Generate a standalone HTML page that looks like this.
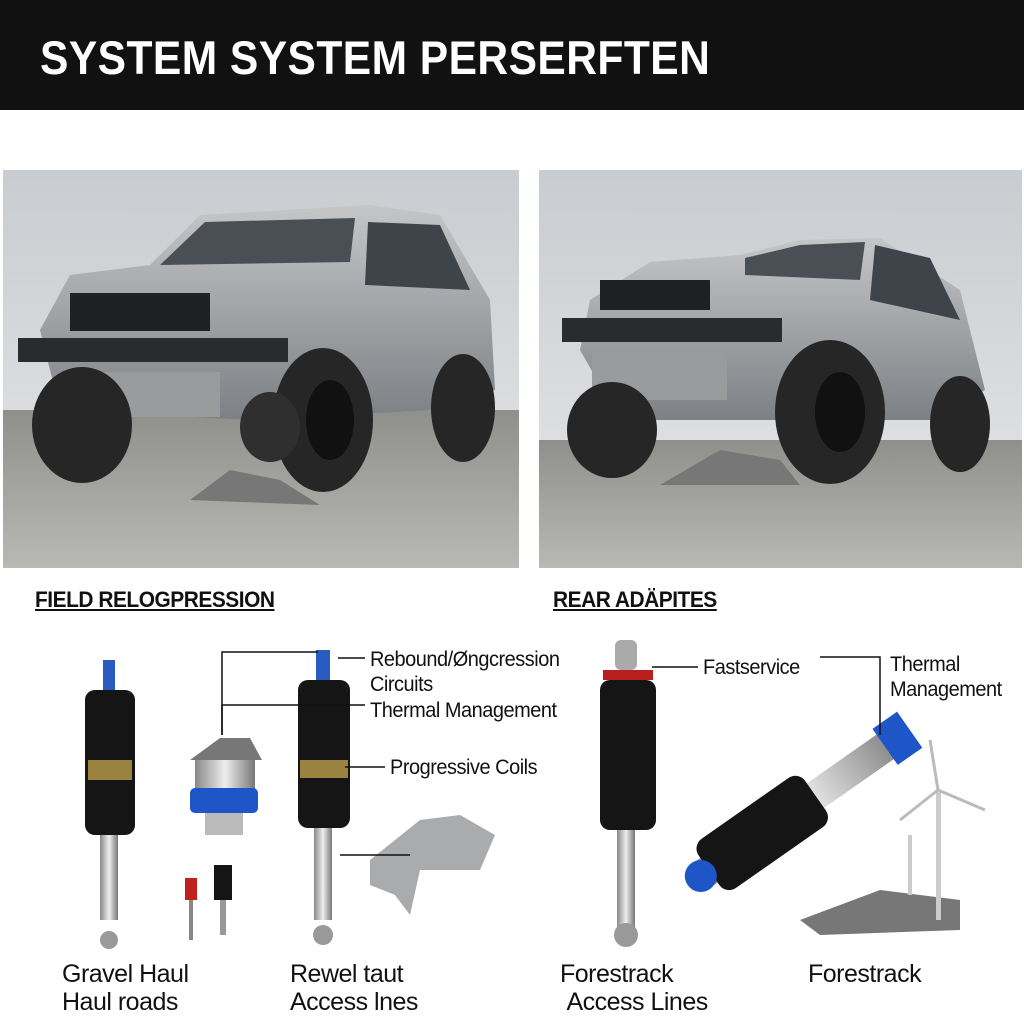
<!DOCTYPE html>
<html><head><meta charset="utf-8"><style>
body{margin:0;width:1024px;height:1024px;background:#fff;overflow:hidden;position:relative;font-family:"Liberation Sans",sans-serif}
.hdr{position:absolute;left:0;top:0;width:1024px;height:110px;background:#111}
.hdr span{position:absolute;left:40px;top:30px;color:#fff;font-weight:bold;font-size:47px;letter-spacing:0.5px;transform:scaleX(0.905);transform-origin:left}
.t{position:absolute;color:#111;white-space:nowrap;transform-origin:left top}
.h2{font-weight:bold;font-size:22px;text-decoration:underline;letter-spacing:-0.5px;transform:scaleX(0.95)}
.lab{font-size:21px;letter-spacing:-0.5px;transform:scaleX(0.95)}
.bot{font-size:25px;line-height:28px;letter-spacing:-0.5px}
</style></head><body>
<div class="hdr"><span>SYSTEM SYSTEM PERSERFTEN</span></div>
<svg width="1024" height="1024" style="position:absolute;left:0;top:0">
<defs>
<linearGradient id="sky" x1="0" y1="0" x2="0" y2="1"><stop offset="0" stop-color="#c9ccd0"/><stop offset="1" stop-color="#e6e7e8"/></linearGradient>
<linearGradient id="gr" x1="0" y1="0" x2="0" y2="1"><stop offset="0" stop-color="#8f8f8c"/><stop offset="1" stop-color="#b8b8b5"/></linearGradient>
<linearGradient id="body" x1="0" y1="0" x2="0" y2="1"><stop offset="0" stop-color="#c4c6c8"/><stop offset="1" stop-color="#7d8084"/></linearGradient>
<linearGradient id="met" x1="0" y1="0" x2="1" y2="0"><stop offset="0" stop-color="#888"/><stop offset=".5" stop-color="#eee"/><stop offset="1" stop-color="#777"/></linearGradient>
</defs>
<rect x="3" y="170" width="516" height="398" fill="url(#sky)"/>
<rect x="3" y="410" width="516" height="158" fill="url(#gr)"/>
<path d="M40 330 L70 275 L150 265 L200 215 L370 205 L440 215 L490 300 L495 390 L430 410 L250 420 L60 410 Z" fill="url(#body)"/>
<path d="M160 265 L205 222 L355 218 L350 262 Z" fill="#4a4f55"/>
<path d="M368 222 L440 225 L470 290 L365 285 Z" fill="#3f444a"/>
<rect x="70" y="293" width="140" height="38" fill="#1f2022"/>
<rect x="18" y="338" width="270" height="24" fill="#2a2b2d"/>
<rect x="60" y="372" width="160" height="45" fill="#9a9b9c"/>
<ellipse cx="82" cy="425" rx="50" ry="58" fill="#262626"/>
<ellipse cx="323" cy="420" rx="50" ry="72" fill="#262626"/><ellipse cx="330" cy="420" rx="24" ry="40" fill="#111"/>
<ellipse cx="463" cy="408" rx="32" ry="54" fill="#262626"/>
<ellipse cx="270" cy="427" rx="30" ry="35" fill="#2f2f2f"/>
<path d="M190 500 L230 470 L280 480 L320 505 Z" fill="#777"/>
<rect x="539" y="170" width="483" height="398" fill="url(#sky)"/>
<rect x="539" y="440" width="483" height="128" fill="url(#gr)"/>
<path d="M590 300 L650 262 L740 255 L800 240 L880 238 L960 290 L985 390 L930 420 L620 420 L580 350 Z" fill="url(#body)"/>
<path d="M745 258 L800 245 L865 242 L860 280 L745 275 Z" fill="#4a4f55"/>
<path d="M875 245 L930 258 L960 320 L870 300 Z" fill="#3f444a"/>
<rect x="600" y="280" width="110" height="30" fill="#1f2022"/>
<rect x="562" y="318" width="220" height="24" fill="#2a2b2d"/>
<rect x="592" y="350" width="135" height="50" fill="#9a9b9c"/>
<ellipse cx="612" cy="430" rx="45" ry="48" fill="#262626"/>
<ellipse cx="830" cy="412" rx="55" ry="72" fill="#262626"/><ellipse cx="840" cy="412" rx="25" ry="40" fill="#111"/>
<ellipse cx="960" cy="424" rx="30" ry="48" fill="#262626"/>
<path d="M660 485 L720 450 L780 460 L800 485 Z" fill="#777"/>
<g>
<rect x="103" y="660" width="12" height="30" fill="#2a5bc0"/>
<rect x="100" y="690" width="18" height="230" fill="url(#met)"/>
<rect x="85" y="690" width="50" height="145" rx="10" fill="#151515"/>
<rect x="88" y="760" width="44" height="20" fill="#9a8240"/>
<circle cx="109" cy="940" r="9" fill="#999"/>
<rect x="316" y="650" width="14" height="30" fill="#2a5bc0"/>
<rect x="314" y="680" width="18" height="240" fill="url(#met)"/>
<rect x="298" y="680" width="52" height="148" rx="10" fill="#151515"/>
<rect x="300" y="760" width="48" height="18" fill="#9a8240"/>
<circle cx="323" cy="935" r="10" fill="#999"/>
<path d="M190 760 L220 738 L250 738 L262 760 Z" fill="#777"/>
<rect x="195" y="760" width="60" height="30" fill="url(#met)"/>
<rect x="190" y="788" width="68" height="25" rx="5" fill="#1e56c8"/>
<rect x="205" y="813" width="38" height="22" fill="#bbb"/>
<rect x="185" y="878" width="12" height="22" fill="#c02020"/><rect x="189" y="900" width="4" height="40" fill="#888"/>
<rect x="214" y="865" width="18" height="35" fill="#151515"/><rect x="220" y="900" width="6" height="35" fill="#999"/>
<path d="M370 860 L420 820 L460 815 L495 835 L480 870 L420 870 L410 915 L395 895 L370 885 Z" fill="#a9abad"/>
<rect x="615" y="640" width="22" height="30" rx="6" fill="#aaa"/>
<rect x="603" y="670" width="50" height="10" fill="#b82020"/>
<rect x="617" y="680" width="18" height="250" fill="url(#met)"/>
<rect x="600" y="680" width="56" height="150" rx="10" fill="#151515"/>
<circle cx="626" cy="935" r="12" fill="#999"/>
<g transform="rotate(-35 795 810)">
<rect x="680" y="795" width="250" height="30" fill="url(#met)"/>
<rect x="690" y="780" width="130" height="60" rx="12" fill="#151515"/>
<rect x="905" y="788" width="30" height="44" fill="#1e56c8"/>
<circle cx="680" cy="810" r="16" fill="#1e56c8"/>
</g>
<path d="M800 920 L880 890 L960 900 L960 930 L820 935 Z" fill="#777"/>
<rect x="936" y="790" width="5" height="130" fill="#ccc"/>
<path d="M938 790 L930 740 M938 790 L985 810 M938 790 L900 820" stroke="#bbb" stroke-width="3"/>
<rect x="908" y="835" width="4" height="60" fill="#ccc"/>
</g>
<g stroke="#111" stroke-width="1.5" fill="none">
<path d="M222 735 V652 H318"/><path d="M222 735 V705 H365"/>
<path d="M338 658 H365"/><path d="M345 767 H385"/><path d="M340 855 H410"/>
<path d="M652 667 H698"/><path d="M820 657 H880 V735"/>
</g>
</svg>
<div class="t h2" style="left:35px;top:587px">FIELD RELOGPRESSION</div>
<div class="t h2" style="left:553px;top:587px">REAR ADÄPITES</div>
<div class="t lab" style="left:370px;top:647px;line-height:25px">Rebound/Øngcression<br>Circuits</div>
<div class="t lab" style="left:370px;top:699px">Thermal Management</div>
<div class="t lab" style="left:390px;top:756px">Progressive Coils</div>
<div class="t lab" style="left:703px;top:656px">Fastservice</div>
<div class="t lab" style="left:890px;top:652px;line-height:25px">Thermal<br>Management</div>
<div class="t bot" style="left:62px;top:960px">Gravel Haul<br>Haul roads</div>
<div class="t bot" style="left:290px;top:960px">Rewel taut<br>Access lnes</div>
<div class="t bot" style="left:560px;top:960px">Forestrack<br>&nbsp;Access Lines</div>
<div class="t bot" style="left:808px;top:960px">Forestrack</div>
</body></html>
